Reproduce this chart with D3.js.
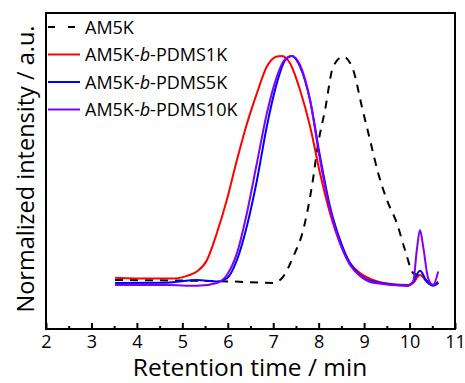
<!DOCTYPE html>
<html>
<head>
<meta charset="utf-8">
<script src="https://cdn.jsdelivr.net/npm/d3@7"></script>
<style>
  body { margin: 0; background: #fff; }
  text { font-family: "Open Sans", sans-serif; }
</style>
</head>
<body>
<div id="chart"></div>
<script>
// retention time (min) and normalized intensity
const am5kTime = [3.52, 6.12, 7.0, 7.22, 7.44, 7.66, 7.85, 7.99, 8.14, 8.32, 8.54, 8.76, 8.95, 9.13, 9.31, 9.5, 9.72, 9.9, 10.08, 10.27, 10.52, 10.63];
const am5kValue = [0.013, 0.006, 0, 0.028, 0.116, 0.233, 0.424, 0.615, 0.762, 0.953, 0.997, 0.938, 0.777, 0.63, 0.483, 0.366, 0.263, 0.145, 0.043, 0.028, -0.01, 0];

const pdms1kTime = [3.52, 4.29, 4.8, 5.1, 5.32, 5.54, 5.76, 5.98, 6.2, 6.42, 6.64, 6.86, 7.08, 7.19, 7.37, 7.59, 7.81, 8.03, 8.25, 8.47, 8.69, 8.91, 9.2, 9.64, 9.97, 10.08, 10.23, 10.38, 10.52, 10.63];
const pdms1kValue = [0.023, 0.019, 0.019, 0.031, 0.05, 0.1, 0.22, 0.366, 0.54, 0.7, 0.835, 0.953, 0.997, 1.0, 0.968, 0.85, 0.69, 0.483, 0.307, 0.175, 0.087, 0.043, 0.013, -0.006, -0.009, 0, 0.035, 0.006, -0.009, 0.006];

const pdms5kTime = [3.52, 4.66, 5.32, 5.76, 5.98, 6.2, 6.42, 6.64, 6.86, 7.08, 7.26, 7.41, 7.59, 7.81, 8.03, 8.25, 8.47, 8.69, 8.91, 9.2, 9.97, 10.08, 10.23, 10.38, 10.52, 10.63];
const pdms5kValue = [0, 0.001, 0.013, 0.006, 0.02, 0.1, 0.25, 0.45, 0.69, 0.88, 0.98, 1.0, 0.953, 0.806, 0.557, 0.336, 0.19, 0.087, 0.035, 0.006, -0.012, 0.006, 0.054, 0.006, -0.012, 0.001];

const pdms10kTime = [3.52, 4.66, 5.32, 5.76, 5.98, 6.2, 6.42, 6.64, 6.86, 7.08, 7.26, 7.41, 7.59, 7.81, 8.03, 8.25, 8.47, 8.69, 8.91, 9.2, 9.97, 10.08, 10.16, 10.23, 10.3, 10.41, 10.52, 10.63];
const pdms10kValue = [-0.009, -0.009, -0.013, 0, 0.035, 0.13, 0.307, 0.527, 0.747, 0.909, 0.985, 1.0, 0.96, 0.806, 0.542, 0.322, 0.175, 0.079, 0.031, 0.001, -0.012, 0.006, 0.145, 0.233, 0.16, 0.02, -0.009, 0.05];

const seriesNames = ["AM5K", "AM5K-b-PDMS1K", "AM5K-b-PDMS5K", "AM5K-b-PDMS10K"];
const xTicks = [2, 3, 4, 5, 6, 7, 8, 9, 10, 11];
const xMinorTicks = [2.5, 3.5, 4.5, 5.5, 6.5, 7.5, 8.5, 9.5, 10.5];

const width = 465, height = 383;
const margin = { top: 13, right: 10, bottom: 54, left: 46 };
const w = width - margin.left - margin.right;
const h = height - margin.top - margin.bottom;

const svg = d3.select("#chart")
  .append("svg")
  .attr("width", width)
  .attr("height", height);

const g = svg.append("g")
  .attr("transform", "translate(" + margin.left + "," + margin.top + ")");

const x = d3.scaleLinear().domain([2, 11]).range([0, w]);
const y = d3.scaleLinear().domain([-0.203, 1.189]).range([h, 0]);

const series = [
  { name: seriesNames[0], t: am5kTime, v: am5kValue, color: "#000", dash: "8,7" },
  { name: seriesNames[1], t: pdms1kTime, v: pdms1kValue, color: "#ff0000", dash: null },
  { name: seriesNames[2], t: pdms5kTime, v: pdms5kValue, color: "#0000ff", dash: null },
  { name: seriesNames[3], t: pdms10kTime, v: pdms10kValue, color: "#8000ff", dash: null }
];

const line = d3.line()
  .x(d => x(d[0]))
  .y(d => y(d[1]))
  .curve(d3.curveMonotoneX);

series.forEach(s => {
  g.append("path")
    .datum(s.t.map((t, i) => [t, s.v[i]]))
    .attr("fill", "none")
    .attr("stroke", s.color)
    .attr("stroke-width", 2)
    .attr("stroke-dasharray", s.dash)
    .attr("d", line);
});

// bottom axis, ticks pointing in
const xAxis = g.append("g")
  .attr("transform", "translate(0," + h + ")")
  .call(d3.axisBottom(x).tickValues(xTicks).tickSize(-6).tickPadding(6).tickFormat(d3.format("d")));
xAxis.select(".domain").remove();
xAxis.selectAll("line").attr("stroke-width", 2);
xAxis.selectAll("text").attr("font-size", 18).attr("fill", "#000");

const xMinor = g.append("g")
  .attr("transform", "translate(0," + h + ")")
  .call(d3.axisBottom(x).tickValues(xMinorTicks).tickSize(-3).tickFormat(""));
xMinor.select(".domain").remove();
xMinor.selectAll("line").attr("stroke-width", 2);

// frame
g.append("rect")
  .attr("width", w)
  .attr("height", h)
  .attr("fill", "none")
  .attr("stroke", "#000")
  .attr("stroke-width", 2);

svg.append("text")
  .attr("x", 250)
  .attr("y", 376)
  .attr("text-anchor", "middle")
  .attr("font-size", 24.5)
  .text("Retention time / min");

svg.append("text")
  .attr("transform", "translate(34," + 169 + ") rotate(-90)")
  .attr("text-anchor", "middle")
  .attr("font-size", 23.5)
  .text("Normalized intensity / a.u.");

// legend
const legend = g.append("g").attr("transform", "translate(2,14)");
series.forEach((s, i) => {
  const row = legend.append("g").attr("transform", "translate(0," + (i * 27.5) + ")");
  row.append("line")
    .attr("x1", 0).attr("x2", 32)
    .attr("stroke", s.color)
    .attr("stroke-width", 2)
    .attr("stroke-dasharray", s.dash ? "7,13" : null);
  const txt = row.append("text")
    .attr("x", 37)
    .attr("y", 6.5)
    .attr("font-size", 18);
  if (i === 0) {
    txt.text(s.name);
  } else {
    const parts = s.name.split("-b-");
    txt.append("tspan").text(parts[0] + "-");
    txt.append("tspan").attr("font-style", "italic").text("b");
    txt.append("tspan").text("-" + parts[1]);
  }
});
</script>
</body>
</html>
